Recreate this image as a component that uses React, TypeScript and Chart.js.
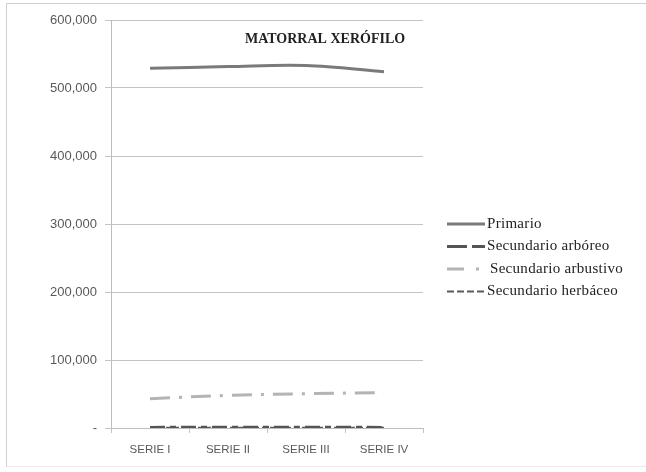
import React, { useEffect, useRef } from "react";
import { Chart, registerables } from "chart.js";

Chart.register(...registerables);

const categories = ["SERIE I", "SERIE II", "SERIE III", "SERIE IV"];
const primario = [529000, 531500, 533000, 524000];
const secArboreo = [900, 1000, 1000, 900];
const secArbustivo = [43000, 48000, 50500, 52000];
const secHerbaceo = [300, 300, 300, 300];
const yTicks = [0, 100000, 200000, 300000, 400000, 500000, 600000];
const chartTitle = "MATORRAL XERÓFILO";

const seriesMeta = [
  { label: "Primario", data: primario, color: "#7a7a7a", dash: [] as number[], legendDash: [] as number[], width: 3 },
  { label: "Secundario arbóreo", data: secArboreo, color: "#555555", dash: [15, 5, 6, 5], legendDash: [20, 5, 14, 5], width: 3 },
  { label: "Secundario arbustivo", data: secArbustivo, color: "#b4b4b4", dash: [20, 9, 3, 9], legendDash: [17, 12, 3, 12], width: 3 },
  { label: "Secundario herbáceo", data: secHerbaceo, color: "#5a5a5a", dash: [5, 3], legendDash: [7, 3], width: 2 },
];

const fmt = (v: number) => (v === 0 ? "-" : v.toLocaleString("en-US"));

const overlayPlugin = {
  id: "overlay",
  afterDraw(chart: any) {
    const ctx = chart.ctx;
    const area = chart.chartArea;
    ctx.save();
    // title inside plot
    ctx.font = "bold 14px 'Liberation Serif', serif";
    ctx.fillStyle = "#222";
    ctx.textAlign = "left";
    ctx.textBaseline = "middle";
    ctx.fillText(chartTitle, area.left + 134, area.top + 19);
    // legend
    const lx = 447;
    const ly0 = 224;
    const step = 22.5;
    seriesMeta.forEach((s) => {
      const i = seriesMeta.indexOf(s);
      const y = ly0 + i * step;
      ctx.beginPath();
      ctx.strokeStyle = s.color;
      ctx.lineWidth = s.width;
      ctx.setLineDash(s.legendDash);
      ctx.moveTo(lx, y);
      ctx.lineTo(lx + 38, y);
      ctx.stroke();
      ctx.setLineDash([]);
      ctx.font = "15px 'Liberation Serif', serif";
      try { (ctx as any).letterSpacing = "0.3px"; } catch (e) {}
      ctx.fillStyle = "#222";
      ctx.textBaseline = "middle";
      ctx.fillText(s.label, lx + 40 + (s.label === "Secundario arbustivo" ? 3 : 0), y);
      try { (ctx as any).letterSpacing = "0px"; } catch (e) {}
    });
    ctx.restore();
  },
};

export default function App() {
  const ref = useRef<HTMLCanvasElement | null>(null);
  useEffect(() => {
    if (!ref.current) return;
    const chart = new Chart(ref.current, {
      type: "line",
      data: {
        labels: categories,
        datasets: seriesMeta.map((s) => ({
          label: s.label,
          data: s.data,
          borderColor: s.color,
          backgroundColor: s.color,
          borderWidth: s.width,
          borderDash: s.dash,
          pointRadius: 0,
          tension: 0.35,
          fill: false,
        })),
      },
      options: {
        responsive: false,
        animation: false,
        layout: { padding: { left: 0, right: 223, top: 20, bottom: 0 } },
        plugins: {
          legend: { display: false },
          title: { display: false },
          tooltip: { enabled: false },
        },
        scales: {
          x: {
            type: "category",
            offset: true,
            grid: { display: true, drawOnChartArea: false, offset: true, tickLength: 5, color: "#c4c4c4" },
            border: { display: true, color: "#bdbdbd", width: 1 },
            ticks: {
              color: "#595959",
              font: { family: "'Liberation Sans', sans-serif", size: 11.5 },
              padding: 10,
              maxRotation: 0,
            },
            afterFit: (scale: any) => {
              scale.height = 44;
            },
          },
          y: {
            min: 0,
            max: 600000,
            afterBuildTicks: (scale: any) => {
              scale.ticks = yTicks.map((v) => ({ value: v }));
            },
            grid: { color: "#c4c4c4", tickLength: 6, lineWidth: 1 },
            border: { display: true, color: "#bdbdbd", width: 1 },
            ticks: {
              color: "#595959",
              font: { family: "'Liberation Sans', sans-serif", size: 13 },
              padding: 8,
              callback: (v: any) => fmt(Number(v)),
            },
            afterFit: (scale: any) => {
              scale.width = 111;
            },
          },
        },
      },
      plugins: [overlayPlugin],
    });
    return () => chart.destroy();
  }, []);
  return (
    <div style={{ position: "absolute", left: 0, top: 0, width: 646, height: 472, background: "#fff" }}>
      <div
        style={{
          position: "absolute",
          left: 6,
          top: 3,
          width: 640,
          height: 462,
          borderLeft: "1px solid #cfcfcf",
          borderTop: "1px solid #cfcfcf",
          borderBottom: "1px solid #ececec",
        }}
      />
      <canvas ref={ref} width={646} height={472} style={{ position: "absolute", left: 0, top: 0 }} />
    </div>
  );
}
